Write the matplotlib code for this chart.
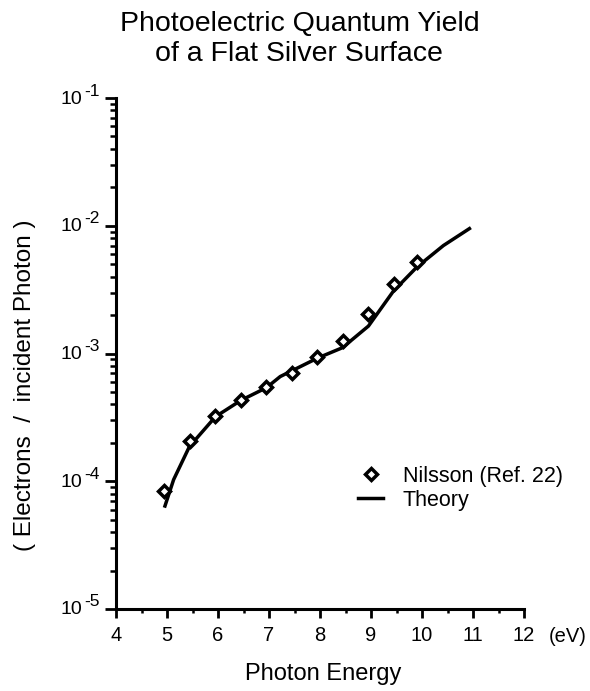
import matplotlib
matplotlib.use('Agg')
import matplotlib.pyplot as plt
from matplotlib.ticker import FixedLocator, LogLocator, NullFormatter
from matplotlib.transforms import ScaledTranslation
import numpy as np

plt.rcParams['font.family'] = ['Liberation Sans', 'DejaVu Sans']

# Nilsson measurements
nilsson_x = [4.95, 5.45, 5.95, 6.45, 6.95, 7.45, 7.95, 8.45, 8.95, 9.45, 9.9]
nilsson_y = [8.4e-5, 2.08e-4, 3.27e-4, 4.36e-4, 5.5e-4, 7.1e-4, 9.35e-4,
             1.25e-3, 2.05e-3, 3.52e-3, 5.2e-3]

# Theory curve
theory_x = [4.96, 5.13, 5.44, 5.95, 6.45, 6.95, 7.22, 7.95, 8.44, 8.95,
            9.44, 9.9, 10.42, 10.93]
theory_y = [6.4e-5, 1.03e-4, 1.87e-4, 3.2e-4, 4.3e-4, 5.4e-4, 6.6e-4,
            9.2e-4, 1.11e-3, 1.64e-3, 3.08e-3, 4.75e-3, 7.0e-3, 9.5e-3]

x_ticks = [4, 5, 6, 7, 8, 9, 10, 11, 12]
y_exps = [-5, -4, -3, -2, -1]

fig = plt.figure(figsize=(5.9, 6.91), dpi=100)
ax = fig.add_axes([116 / 590, 1 - 609 / 691, 408 / 590, 511 / 691])

ax.plot(theory_x, theory_y, color='black', lw=2.5, label='Theory', zorder=2)
ax.plot(nilsson_x, nilsson_y, ls='none', marker='D', ms=6, mfc='white',
        mec='black', mew=2.5, label='Nilsson (Ref. 22)', zorder=3)

ax.set_yscale('log')
ax.set_xlim(4, 12)
ax.set_ylim(1e-5, 1e-1)

ax.xaxis.set_major_locator(FixedLocator(x_ticks))
ax.xaxis.set_minor_locator(FixedLocator(np.arange(4.5, 12, 1.0)))
ax.set_xticklabels([str(t) for t in x_ticks])

ax.yaxis.set_major_locator(FixedLocator([10.0 ** e for e in y_exps]))
ax.yaxis.set_minor_locator(LogLocator(base=10, subs=np.arange(2, 10)))
ax.yaxis.set_major_formatter(NullFormatter())
ax.yaxis.set_minor_formatter(NullFormatter())

for s in ['top', 'right']:
    ax.spines[s].set_visible(False)
for s in ['left', 'bottom']:
    ax.spines[s].set_linewidth(2.2)

ax.tick_params(axis='x', which='major', direction='out', length=6.5, width=2,
               labelsize=14.5, pad=6)
ax.tick_params(axis='x', which='minor', direction='out', length=3, width=1.8)
ax.tick_params(axis='y', which='major', direction='out', length=8, width=2)
ax.tick_params(axis='y', which='minor', direction='out', length=4.3, width=1.8)

# y tick labels as "10" with a large superscript exponent
ytrans = ax.get_yaxis_transform()
for e in y_exps:
    t_base = ytrans + ScaledTranslation(-34 / 100, -1 / 100, fig.dpi_scale_trans)
    t_sup = ytrans + ScaledTranslation(-32 / 100, 7 / 100, fig.dpi_scale_trans)
    ax.text(0, 10.0 ** e, '10', transform=t_base, ha='right', va='center',
            fontsize=14)
    ax.text(0, 10.0 ** e, str(e), transform=t_sup, ha='left', va='center',
            fontsize=12.5)

fig.text(300 / 590, 1 - 24 / 691, 'Photoelectric Quantum Yield',
         ha='center', va='center', fontsize=20.5)
fig.text(299 / 590, 1 - 54 / 691, 'of a Flat Silver Surface',
         ha='center', va='center', fontsize=20.5)
fig.text(568 / 590, 1 - 636 / 691, '(eV)', ha='center', va='center',
         fontsize=14.5)
fig.text(323 / 590, 1 - 674 / 691, 'Photon Energy', ha='center', va='center',
         fontsize=17)
fig.text(25 / 590, 1 - 385 / 691, '( Electrons  /  incident Photon )',
         rotation=90, ha='center', va='center', fontsize=17.5)

handles, labels = ax.get_legend_handles_labels()
ax.legend(handles[::-1], labels[::-1], loc='upper left',
          bbox_to_anchor=(349 / 590, 1 - 457 / 691),
          bbox_transform=fig.transFigure, frameon=False, fontsize=15.5,
          handlelength=1.2, handletextpad=0.9, labelspacing=0.15,
          borderpad=0.4, borderaxespad=0)

fig.savefig('out.png', dpi=100)
